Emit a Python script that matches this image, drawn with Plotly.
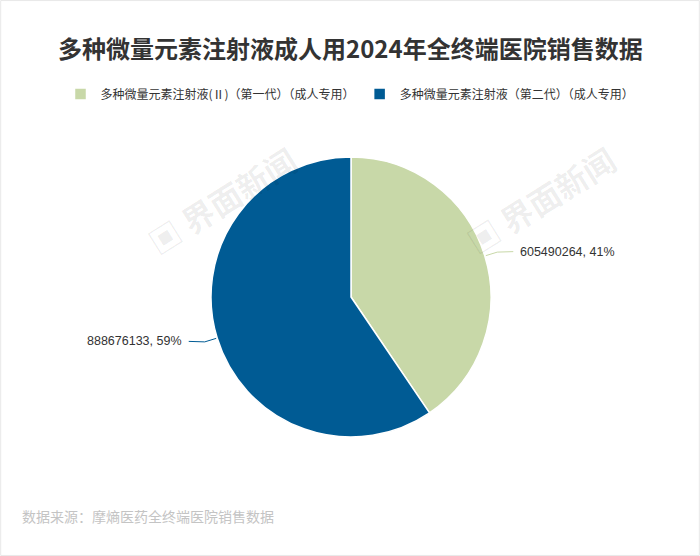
import math
import plotly.graph_objects as go

title = "多种微量元素注射液成人用2024年全终端医院销售数据"
labels = ["多种微量元素注射液(Ⅱ)（第一代）（成人专用）", "多种微量元素注射液（第二代）（成人专用）"]
values = [605490264, 888676133]
colors = ["#c8d8a8", "#005b94"]
source = "数据来源：摩熵医药全终端医院销售数据"
watermark = "界面新闻"

W, H = 700, 556
CX, CY, R = 351, 297, 140
FONT = "Noto Sans CJK SC"

fig = go.Figure()
fig.add_trace(go.Pie(
    labels=labels, values=values, sort=False, direction="clockwise", rotation=0,
    marker=dict(colors=colors, line=dict(color="#ffffff", width=1.5)),
    textinfo="none", hoverinfo="label+value+percent",
    domain=dict(x=[(CX - R) / W, (CX + R) / W], y=[1 - (CY + R) / H, 1 - (CY - R) / H]),
))

def px(x, y):
    return x / W, 1 - y / H

shapes = []
annotations = []
total = sum(values)
cum = 0
for v, c in zip(values, colors):
    mid = (cum + v / 2) / total * 2 * math.pi
    cum += v
    s, co = math.sin(mid), math.cos(mid)
    x0, y0 = CX + (R + 1) * s, CY - (R + 1) * co
    x1, y1 = CX + (R + 13) * s, CY - (R + 13) * co
    side = 1 if s >= 0 else -1
    x2, y2 = x1 + side * 16, y1 - 0.5
    pts = [px(x0, y0), px(x1, y1), px(x2, y2)]
    path = "M {} {} L {} {} L {} {}".format(pts[0][0], pts[0][1], pts[1][0], pts[1][1], pts[2][0], pts[2][1])
    shapes.append(dict(type="path", xref="paper", yref="paper", path=path,
                       line=dict(color=c, width=1)))
    pct = round(v / total * 100)
    tx, ty = px(x2 + side * 5, y2)
    annotations.append(dict(xref="paper", yref="paper", x=tx, y=ty,
                            xanchor="left" if side > 0 else "right", yanchor="middle",
                            text=f"{v}, {pct}%", showarrow=False,
                            font=dict(family="Liberation Sans, " + FONT, size=12.5, color="#333333")))

# watermarks
for wx, wy in [(222, 200), (540, 200)]:
    annotations.insert(0, dict(xref="paper", yref="paper", x=wx / W, y=1 - wy / H,
                               text="<b>▣ " + watermark + "</b>", showarrow=False, textangle=-32,
                               font=dict(family=FONT, size=32, color="rgba(0,0,0,0.07)"),
                               xanchor="center", yanchor="middle"))

annotations.append(dict(xref="paper", yref="paper", x=0.5, y=1 - 47 / H, text="<b>" + title + "</b>",
                        showarrow=False, xanchor="center", yanchor="middle",
                        font=dict(family=FONT, size=24, color="#333333")))
annotations.append(dict(xref="paper", yref="paper", x=20 / W, y=1 - 516 / H, text=source,
                        showarrow=False, xanchor="left", yanchor="middle",
                        font=dict(family=FONT, size=14, color="#c4c4c4")))

shapes.append(dict(type="rect", xref="paper", yref="paper", x0=0.001, y0=0.001, x1=0.999, y1=0.999,
                   line=dict(color="#e8e8e8", width=1), layer="below"))

fig.update_layout(
    width=W, height=H, margin=dict(l=0, r=0, t=0, b=0),
    paper_bgcolor="#ffffff", plot_bgcolor="#ffffff",
    showlegend=True,
    legend=dict(orientation="h", x=0.5, xanchor="center", y=1 - 94 / H, yanchor="middle",
                font=dict(family=FONT, size=12, color="#333333"), itemwidth=30,
                bgcolor="rgba(0,0,0,0)"),
    shapes=shapes, annotations=annotations,
)

fig.write_html("out.html", config={"displayModeBar": False},
               post_script="document.body.style.margin='0';document.body.style.overflow='hidden';")
